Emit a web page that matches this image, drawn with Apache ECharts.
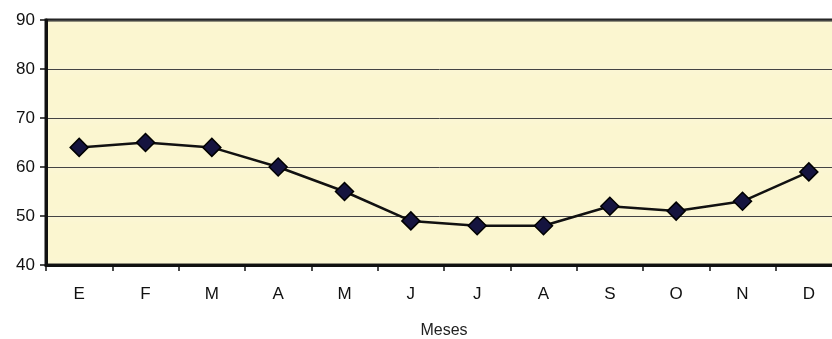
<!DOCTYPE html>
<html><head><meta charset="utf-8">
<script src="https://cdn.jsdelivr.net/npm/echarts@6/dist/echarts.min.js"></script>
<style>html,body{margin:0;padding:0;background:#fff}#c{width:832px;height:339px}</style>
</head><body><div id="c"></div>
<script>
const months = ['E','F','M','A','M','J','J','A','S','O','N','D'];
const values = [64, 65, 64, 60, 55, 49, 48, 48, 52, 51, 53, 59];
const yMin = 40, yMax = 90, yStep = 10;
const xName = 'Meses';
const FONT = '"Liberation Sans", Arial, sans-serif';

const chart = echarts.init(document.getElementById('c'));
chart.setOption({
  animation: false,
  grid: {left: 46, top: 20, right: -10, bottom: 74, show: true, outerBoundsMode: 'none', containLabel: false,
         backgroundColor: '#FBF6D0', borderColor: '#111', borderWidth: 3},
  xAxis: {
    type: 'category', data: months, boundaryGap: true,
    name: xName, nameLocation: 'middle', nameGap: 58,
    nameTextStyle: {fontFamily: FONT, fontSize: 16, color: '#222'},
    axisLine: {lineStyle: {color: '#111', width: 3}},
    axisTick: {show: true, length: 6, lineStyle: {color: '#111', width: 1.5}},
    axisLabel: {fontFamily: FONT, fontSize: 17, color: '#111', margin: 21}
  },
  yAxis: {
    type: 'value', min: yMin, max: yMax, interval: yStep,
    axisLine: {show: true, lineStyle: {color: '#111', width: 3}},
    axisTick: {show: true, length: 6, lineStyle: {color: '#111', width: 1.5}},
    axisLabel: {fontFamily: FONT, fontSize: 17, color: '#111', margin: 11},
    splitLine: {show: true, lineStyle: {color: '#444', width: 1, shadowColor: '#ffffff', shadowBlur: 8}}
  },
  series: [{
    type: 'line', data: values,
    symbol: 'diamond', symbolSize: 18,
    lineStyle: {color: '#111', width: 2.5},
    itemStyle: {color: '#15143F', borderColor: '#000', borderWidth: 1.5}
  }]
});
</script></body></html>
